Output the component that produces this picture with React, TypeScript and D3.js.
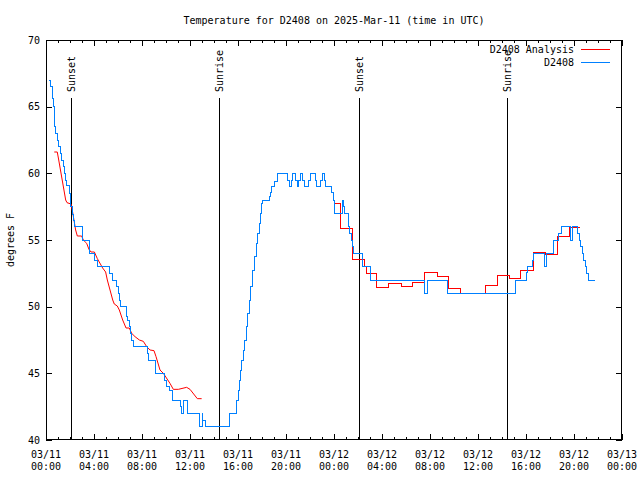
import React from "react";
import * as d3 from "d3";

// Hours since 03/11 00:00 UTC
const obsTimes = [
  0.25, 0.375, 0.5, 0.61, 0.69, 0.83, 0.94, 1.06, 1.22, 1.33, 1.44, 1.5, 1.64, 1.72, 1.96, 2.0, 2.08, 2.19, 2.31, 2.39,
  3.0, 3.63, 4.08, 4.27, 5.33, 5.5, 5.875, 6.0, 6.11, 6.22, 6.67, 6.83, 6.92, 7.03, 7.14, 7.28, 8.44, 8.54, 9.13, 9.86,
  10.0, 10.33, 10.53, 11.17, 11.28, 11.44, 11.81, 12.78, 13.0, 13.06, 13.28, 15.33, 15.89, 16.0, 16.11, 16.22, 16.33, 16.44, 16.58, 16.69,
  16.81, 16.92, 17.04, 17.19, 17.36, 17.5, 17.64, 17.75, 17.86, 17.97, 18.06, 18.61, 18.67, 18.81, 19.08, 19.31, 20.13, 20.25, 20.42, 20.56,
  20.83, 20.94, 21.08, 21.17, 21.38, 21.53, 21.88, 22.0, 22.42, 22.56, 22.88, 23.0, 23.17, 23.33, 23.83, 23.94, 24.08, 24.72, 24.81, 24.86,
  25.19, 25.33, 25.42, 25.53, 25.61, 26.38, 27.06, 31.58, 31.78, 33.46, 39.13, 40.06, 40.11, 40.53, 40.61, 41.58, 41.72, 42.28, 42.69, 42.97,
  43.67, 43.86, 44.31, 44.44, 44.56, 44.72, 44.83, 44.94, 45.06, 45.19, 45.75,
];
const obsTemps = [
  67.0, 66.5, 65.6, 65.0, 63.5, 63.0, 62.5, 62.0, 61.5, 61.0, 60.5, 60.0, 59.5, 59.1, 58.5, 58.0, 57.5, 56.9, 56.5, 56.0,
  55.0, 54.0, 53.5, 53.0, 52.5, 52.0, 51.5, 51.0, 50.5, 50.0, 49.25, 49.0, 48.5, 48.0, 47.5, 47.0, 46.5, 46.0, 45.0, 44.5,
  44.0, 43.75, 43.0, 42.5, 42.0, 43.0, 42.0, 41.0, 42.0, 41.5, 41.0, 42.0, 43.0, 43.75, 44.5, 45.25, 46.0, 46.75, 47.5, 48.5,
  49.5, 50.5, 51.5, 52.75, 53.75, 54.75, 55.5, 56.25, 57.0, 57.75, 58.0, 58.3, 58.6, 59.0, 59.4, 60.0, 59.5, 59.0, 59.5, 60.0,
  59.5, 59.0, 59.5, 60.0, 59.5, 59.0, 59.5, 60.0, 59.5, 59.0, 59.5, 60.0, 59.5, 59.0, 58.6, 58.0, 57.0, 58.0, 57.5, 57.0,
  56.0, 55.5, 55.0, 54.5, 54.0, 53.0, 52.0, 51.0, 52.0, 51.0, 52.0, 52.6, 53.0, 53.5, 54.0, 53.0, 54.0, 55.0, 55.5, 56.0,
  55.0, 56.0, 55.5, 55.0, 54.5, 54.0, 53.5, 53.0, 52.5, 52.0, 52.0,
];

// Analysis, first day (drawn with straight segments)
const anaTimes1 = [
  0.69, 0.94, 1.06, 1.64, 1.75, 2.08, 2.19, 2.47, 2.61, 2.97, 3.11, 3.39, 3.58, 3.75, 4.03, 4.28, 4.72, 4.97, 5.11, 5.56,
  5.69, 5.94, 6.11, 6.39, 6.67, 6.94, 7.14, 7.42, 7.78, 8.11, 8.39, 8.67, 9.0, 9.17, 9.5, 9.78, 10.33, 10.61, 11.03, 11.72,
  12.0, 12.61, 12.97,
];
const anaTemps1 = [
  61.6, 61.6, 61.0, 58.0, 57.8, 57.7, 57.25, 55.75, 55.3, 55.3, 55.0, 54.75, 54.3, 54.1, 54.1, 53.6, 52.9, 52.6, 52.0, 50.5,
  50.2, 50.05, 49.75, 49.0, 48.4, 48.4, 48.0, 47.75, 47.5, 47.4, 47.0, 46.75, 46.7, 46.25, 45.25, 45.0, 44.25, 43.8, 43.8, 43.95,
  43.8, 43.1, 43.1,
];

// Analysis, second day (hourly steps)
const anaTimes2 = [
  24.03, 24.54, 25.58, 26.54, 26.67, 27.58, 28.58, 29.61, 30.58, 31.58, 32.61, 33.58, 34.58, 36.61, 37.61, 38.61, 39.58, 40.61, 41.61, 42.61,
  43.61, 44.5,
];
const anaTemps2 = [
  57.75, 55.9, 53.55, 53.0, 52.5, 51.45, 51.75, 51.55, 51.8, 52.6, 52.3, 51.4, 51.0, 51.6, 52.35, 52.15, 52.75, 54.1, 53.95, 55.3,
  55.95, 55.95,
];

const sunTimes = [2.08, 14.42, 26.08, 38.42];
const sunLabels = ["Sunset", "Sunrise", "Sunset", "Sunrise"];

const yTicks = [40, 45, 50, 55, 60, 65, 70];
const xMajorHours = [0, 4, 8, 12, 16, 20, 24, 28, 32, 36, 40, 44, 48];
const xDateLabels = ["03/11", "03/11", "03/11", "03/11", "03/11", "03/11", "03/12", "03/12", "03/12", "03/12", "03/12", "03/12", "03/13"];
const xTimeLabels = ["00:00", "04:00", "08:00", "12:00", "16:00", "20:00", "00:00", "04:00", "08:00", "12:00", "16:00", "20:00", "00:00"];

const title = "Temperature for D2408 on 2025-Mar-11 (time in UTC)";
const yLabel = "degrees F";
const seriesNames = ["D2408 Analysis", "D2408"];
const seriesColors = ["#ff0000", "#0080ff"];

const W = 640;
const H = 480;
const L = 46, R = 622, T = 40, B = 440;
const FONT = "'DejaVu Sans Mono', 'Liberation Mono', monospace";

export default function App() {
  const x = d3.scaleLinear().domain([0, 48]).range([L, R]);
  const y = d3.scaleLinear().domain([40, 70]).range([B, T]);

  const obs = obsTimes.map((t, i) => [t, obsTemps[i]] as [number, number]);
  const ana1 = anaTimes1.map((t, i) => [t, anaTemps1[i]] as [number, number]);
  const ana2 = anaTimes2.map((t, i) => [t, anaTemps2[i]] as [number, number]);

  const stepLine = d3.line<[number, number]>().x((d) => x(d[0])).y((d) => y(d[1])).curve(d3.curveStepAfter);
  const linLine = d3.line<[number, number]>().x((d) => x(d[0])).y((d) => y(d[1]));

  const hours = d3.range(0, 49);

  return (
    <svg width={W} height={H} style={{ position: "absolute", left: 0, top: 0, background: "#fff" }} fontFamily={FONT} fontSize={10}>
      <rect x={0} y={0} width={W} height={H} fill="#fff" />
      <text x={(L + R) / 2} y={24} textAnchor="middle" fill="#000">{title}</text>

      {/* ticks */}
      <g stroke="#000" strokeWidth={1} shapeRendering="crispEdges">
        {hours.map((h) => {
          const len = h % 4 === 0 ? 6 : 3;
          const xx = Math.round(x(h)) + 0.5;
          return (
            <g key={"xt" + h}>
              <line x1={xx} x2={xx} y1={B} y2={B - len} />
              <line x1={xx} x2={xx} y1={T} y2={T + len} />
            </g>
          );
        })}
        {yTicks.map((v) => {
          const yy = Math.round(y(v)) + 0.5;
          return (
            <g key={"yt" + v}>
              <line x1={L} x2={L + 6} y1={yy} y2={yy} />
              <line x1={R} x2={R - 6} y1={yy} y2={yy} />
            </g>
          );
        })}
      </g>

      {/* y tick labels */}
      {yTicks.map((v) => (
        <text key={"yl" + v} x={40} y={y(v) + 3.5} textAnchor="end" fill="#000">{v}</text>
      ))}
      {/* x tick labels */}
      {xMajorHours.map((h, i) => (
        <g key={"xl" + h}>
          <text x={x(h)} y={458} textAnchor="middle" fill="#000">{xDateLabels[i]}</text>
          <text x={x(h)} y={470} textAnchor="middle" fill="#000">{xTimeLabels[i]}</text>
        </g>
      ))}

      <text transform={`translate(14,${(T + B) / 2}) rotate(-90)`} textAnchor="middle" fill="#000">{yLabel}</text>

      {/* sunrise / sunset markers */}
      {sunTimes.map((t, i) => {
        const xx = Math.round(x(t)) + 0.5;
        return (
          <g key={"sun" + i}>
            <line x1={xx} x2={xx} y1={98} y2={B} stroke="#000" strokeWidth={1} shapeRendering="crispEdges" />
            <text transform={`translate(${xx + 3.5},92) rotate(-90)`} textAnchor="start" fill="#000">{sunLabels[i]}</text>
          </g>
        );
      })}

      {/* data */}
      <path d={linLine(ana1) || ""} fill="none" stroke={seriesColors[0]} strokeWidth={1} />
      <path d={stepLine(ana2) || ""} fill="none" stroke={seriesColors[0]} strokeWidth={1} shapeRendering="crispEdges" />
      <path d={stepLine(obs) || ""} fill="none" stroke={seriesColors[1]} strokeWidth={1} shapeRendering="crispEdges" />

      {/* frame */}
      <rect x={L + 0.5} y={T + 0.5} width={R - L - 1} height={B - T - 1} fill="none" stroke="#000" strokeWidth={1} shapeRendering="crispEdges" />

      {/* legend */}
      {seriesNames.map((n, i) => (
        <g key={"lg" + i}>
          <text x={574} y={53 + i * 13} textAnchor="end" fill="#000">{n}</text>
          <line x1={581} x2={610} y1={49.5 + i * 13} y2={49.5 + i * 13} stroke={seriesColors[i]} strokeWidth={1} shapeRendering="crispEdges" />
        </g>
      ))}
    </svg>
  );
}
